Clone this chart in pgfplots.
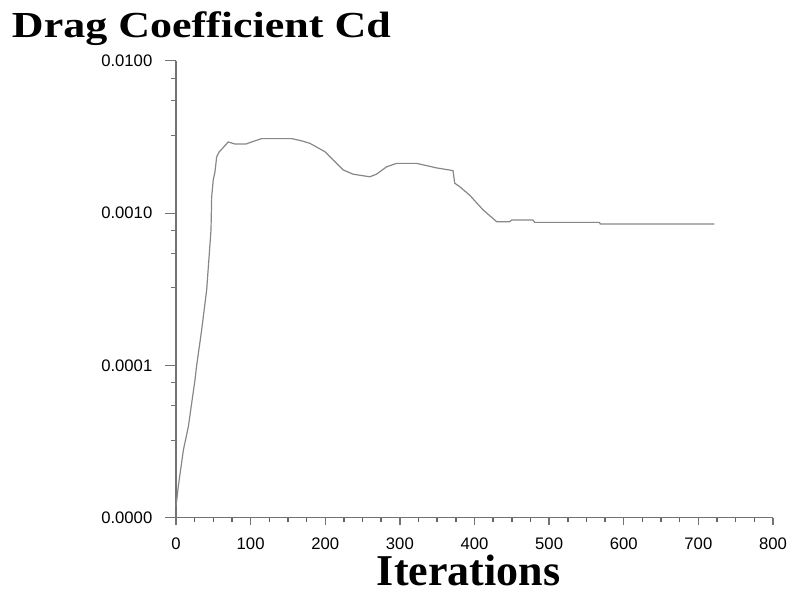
\documentclass[border=0pt]{standalone}
\usepackage{fontspec}
\setmainfont{Liberation Serif}
\setsansfont{Liberation Sans}
\usepackage{pgfplots}
\usepackage{pgfplotstable}
\pgfplotsset{compat=1.18}
\definecolor{axgray}{RGB}{115,115,115}
\definecolor{curvegray}{RGB}{135,135,135}
\pgfplotstableread{
x y
0 1.2e-5
1 1.3e-5
3 1.6e-5
10 2.8e-5
16.5 3.95e-5
25.4 8.0e-5
27.7 1.0e-4
34.4 1.71e-4
41.1 3.13e-4
43.8 4.77e-4
46.9 7.73e-4
47.8 1.28e-3
49.9 1.65e-3
52.2 1.86e-3
54.5 2.34e-3
58 2.53e-3
60.2 2.59e-3
70 2.93e-3
79 2.84e-3
93.7 2.84e-3
105.8 2.98e-3
114.7 3.08e-3
155.3 3.08e-3
168.3 2.98e-3
179.4 2.87e-3
199.5 2.53e-3
210.6 2.23e-3
224 1.92e-3
237.3 1.80e-3
259.7 1.73e-3
268.7 1.80e-3
282.1 2.01e-3
295.5 2.12e-3
322.2 2.12e-3
335.6 2.05e-3
349 1.98e-3
371.2 1.90e-3
373.5 1.57e-3
380.2 1.49e-3
393.6 1.31e-3
411.4 1.05e-3
429.7 8.78e-4
447.1 8.78e-4
449.8 9.0e-4
478.3 9.0e-4
480.6 8.69e-4
567.6 8.69e-4
568.5 8.47e-4
721.6 8.47e-4
}\cdtable
\begin{document}
\begin{tikzpicture}
\path[use as bounding box] (-132pt,-58.7pt) rectangle (459pt,388.3pt);
% y axis with curve
\begin{axis}[
  at={(0,0)}, anchor=south west,
  scale only axis, width=447.75pt, height=342.75pt,
  ymode=log, xmin=0, xmax=800, ymin=1e-5, ymax=1e-2,
  axis x line=none, axis y line=left,
  axis line style={-, axgray, line width=0.8pt},
  tick align=outside,
  major tick length=8.25pt, minor tick length=3.75pt,
  ytick={1e-5,1e-4,1e-3,1e-2},
  yticklabels={0.0000,0.0001,0.0010,0.0100},
  minor ytick={7.67e-3,5.46e-3,3.236e-3,7.67e-4,5.46e-4,3.236e-4,7.67e-5,5.46e-5,3.236e-5},
  ytick style={axgray, line width=0.8pt},
  yticklabel style={font=\sffamily\fontsize{12.5pt}{13pt}\selectfont, text=black, xshift=-6pt},
  xtick=\empty,
  clip=false,
]
\addplot[curvegray, line width=0.9pt] table[x=x,y=y] {\cdtable};
\end{axis}
% x axis
\begin{axis}[
  at={(0,0)}, anchor=south west,
  scale only axis, width=447.75pt, height=342.75pt,
  xmin=0, xmax=800, ymin=0, ymax=1,
  axis y line=none, axis x line=bottom,
  axis line style={-, axgray, line width=0.8pt},
  tick align=outside,
  major tick length=5.25pt, minor tick length=3.5pt,
  xtick={0,100,...,800},
  xticklabels={0,100,200,300,400,500,600,700,800},
  minor xtick={25,50,75,125,150,175,225,250,275,325,350,375,425,450,475,525,550,575,625,650,675,725,750,775},
  xtick style={axgray, line width=1pt},
  minor x tick style={black!60, line width=1.1pt},
  xticklabel style={font=\sffamily\fontsize{12.5pt}{13pt}\selectfont, text=black, yshift=-6pt},
  ytick=\empty,
]
\end{axis}
\node[anchor=base west, inner sep=0pt] at (-123.2pt,360.5pt)
  {\scalebox{1.2}[1]{\fontsize{27.5pt}{30pt}\selectfont\bfseries Drag Coefficient Cd}};
\node[anchor=base, inner sep=0pt] at (219.4pt,-50.5pt)
  {\fontsize{33pt}{36pt}\selectfont\bfseries Iterations};
\end{tikzpicture}
\end{document}
